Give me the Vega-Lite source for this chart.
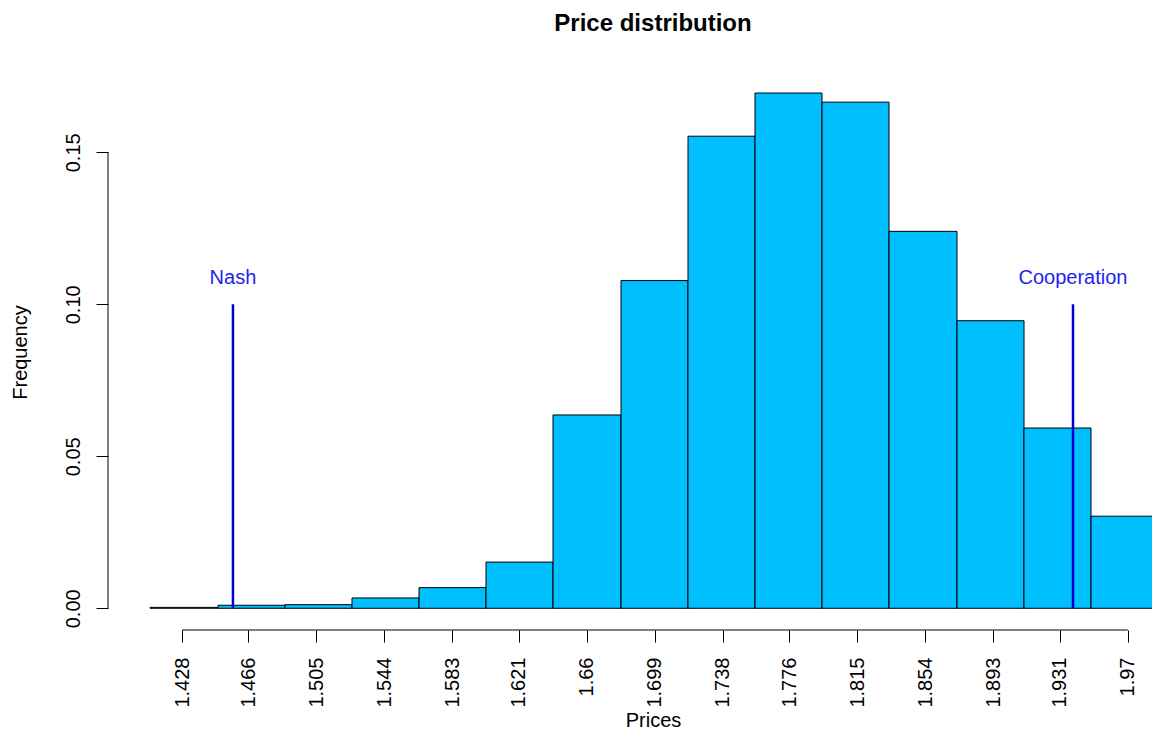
{
  "$schema": "https://vega.github.io/schema/vega-lite/v6.json",
  "autosize": {"type": "none"},
  "width": 1044,
  "height": 556,
  "padding": {"left": 108, "top": 74, "right": 0, "bottom": 102},
  "background": "white",
  "title": {"text": "Price distribution", "font": "Liberation Sans", "fontSize": 24, "fontWeight": "bold", "color": "black", "anchor": "middle", "frame": "group", "dx": 23, "baseline": "alphabetic", "offset": 19},
  "config": {
    "view": {"stroke": null},
    "axis": {"grid": false, "domain": false, "tickColor": "black", "tickSize": 12, "tickWidth": 1, "labelFont": "Liberation Sans", "labelFontSize": 20, "labelColor": "black", "titleFont": "Liberation Sans", "titleFontSize": 20, "titleFontWeight": "normal", "titleColor": "black", "labelFlush": false, "labelOverlap": false, "labelBound": false}
  },
  "datasets": {
    "bins": [
      {"start": 1.40966, "end": 1.44863, "base": 0, "freq": 0.0003},
      {"start": 1.44863, "end": 1.48703, "base": 0, "freq": 0.0010},
      {"start": 1.48703, "end": 1.52542, "base": 0, "freq": 0.0012},
      {"start": 1.52542, "end": 1.56382, "base": 0, "freq": 0.0034},
      {"start": 1.56382, "end": 1.60221, "base": 0, "freq": 0.0068},
      {"start": 1.60221, "end": 1.64061, "base": 0, "freq": 0.0152},
      {"start": 1.64061, "end": 1.67958, "base": 0, "freq": 0.0636},
      {"start": 1.67958, "end": 1.71797, "base": 0, "freq": 0.1078},
      {"start": 1.71797, "end": 1.75637, "base": 0, "freq": 0.1553},
      {"start": 1.75637, "end": 1.79476, "base": 0, "freq": 0.1695},
      {"start": 1.79476, "end": 1.83316, "base": 0, "freq": 0.1665},
      {"start": 1.83316, "end": 1.87212, "base": 0, "freq": 0.1240},
      {"start": 1.87212, "end": 1.91052, "base": 0, "freq": 0.0946},
      {"start": 1.91052, "end": 1.94891, "base": 0, "freq": 0.0593},
      {"start": 1.94891, "end": 1.98731, "base": 0, "freq": 0.0303}
    ],
    "refs": [
      {"label": "Nash", "price": 1.4572, "base": 0, "top": 0.10, "labelAt": 0.1085},
      {"label": "Cooperation", "price": 1.9386, "base": 0, "top": 0.10, "labelAt": 0.1085}
    ],
    "yline": [{"at": 1.38559, "lo": 0, "hi": 0.15}],
    "xline": [{"at": -0.00714, "lo": 1.428, "hi": 1.97}]
  },
  "layer": [
    {
      "data": {"name": "bins"},
      "mark": {"type": "rect", "fill": "#00BFFF", "stroke": "black", "strokeWidth": 1, "clip": true},
      "encoding": {
        "x": {"field": "start", "type": "quantitative",
          "scale": {"domain": [1.38559, 1.98387], "nice": false, "zero": false, "padding": 0},
          "axis": {"values": [1.428, 1.466, 1.505, 1.544, 1.583, 1.621, 1.66, 1.699, 1.738, 1.776, 1.815, 1.854, 1.893, 1.931, 1.97], "format": ".4~g", "labelAngle": 270, "labelAlign": "right", "labelBaseline": "middle", "labelPadding": 15, "title": "Prices", "titleX": 545, "titleY": 90, "titleBaseline": "middle"}},
        "x2": {"field": "end"},
        "y": {"field": "freq", "type": "quantitative",
          "scale": {"domain": [-0.00714, 0.17576], "nice": false, "zero": false, "padding": 0},
          "axis": {"values": [0, 0.05, 0.1, 0.15], "format": ".2f", "labelAngle": 270, "labelAlign": "center", "labelBaseline": "alphabetic", "labelPadding": 17, "title": "Frequency", "titleAngle": 270, "titleAlign": "center", "titleBaseline": "middle", "titleX": -88, "titleY": 278}},
        "y2": {"field": "base"}
      }
    },
    {
      "data": {"name": "yline"},
      "mark": {"type": "rule", "color": "black", "strokeWidth": 1},
      "encoding": {
        "x": {"field": "at", "type": "quantitative"},
        "y": {"field": "lo", "type": "quantitative"},
        "y2": {"field": "hi"}
      }
    },
    {
      "data": {"name": "xline"},
      "mark": {"type": "rule", "color": "black", "strokeWidth": 1},
      "encoding": {
        "x": {"field": "lo", "type": "quantitative"},
        "x2": {"field": "hi"},
        "y": {"field": "at", "type": "quantitative"}
      }
    },
    {
      "data": {"name": "refs"},
      "mark": {"type": "rule", "color": "#0000CD", "strokeWidth": 2.5},
      "encoding": {
        "x": {"field": "price", "type": "quantitative"},
        "y": {"field": "base", "type": "quantitative"},
        "y2": {"field": "top"}
      }
    },
    {
      "data": {"name": "refs"},
      "mark": {"type": "text", "color": "#2222EE", "font": "Liberation Sans", "fontSize": 20, "align": "center", "baseline": "middle"},
      "encoding": {
        "x": {"field": "price", "type": "quantitative"},
        "y": {"field": "labelAt", "type": "quantitative"},
        "text": {"field": "label"}
      }
    }
  ]
}
